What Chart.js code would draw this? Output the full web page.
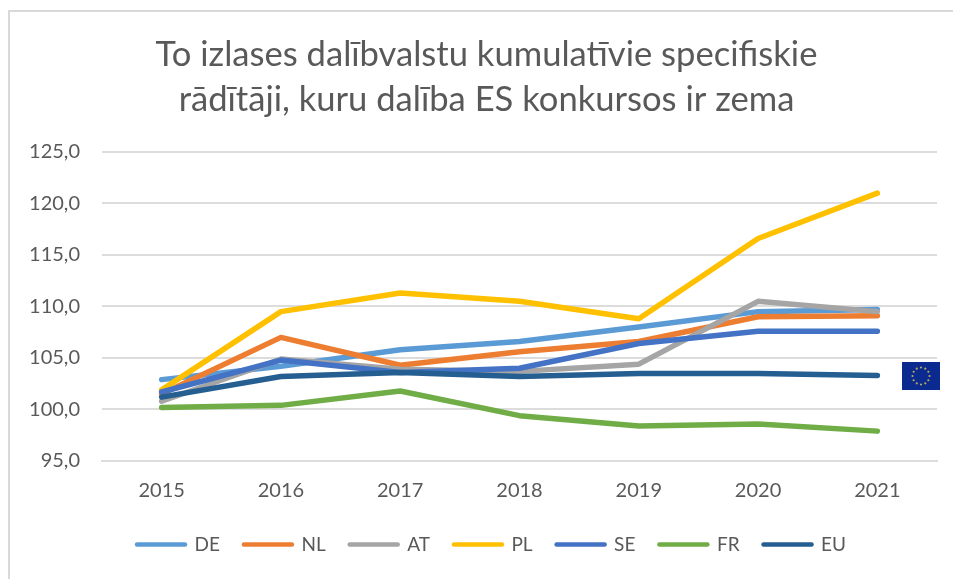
<!DOCTYPE html>
<html><head><meta charset="utf-8">
<style>
html,body{margin:0;padding:0;background:#fff;overflow:hidden}
#wrap{position:absolute;left:0;top:0;width:953px;height:579px}
#frame{position:absolute;left:8px;top:10px;width:960px;height:600px;border:2px solid #d9d9d9;box-sizing:border-box}
canvas{position:absolute;left:0;top:0}
#flag{position:absolute;left:902px;top:362px;width:38px;height:28px}
</style>
<script src="https://cdn.jsdelivr.net/npm/chart.js@4"></script>
</head><body>
<div id="wrap"><div id="frame"></div><canvas id="c" width="953" height="579"></canvas>
<svg id="flag" viewBox="0 0 38 28"><rect width="38" height="28" fill="#0b2a8f"/><g id="stars" fill="#b9a95a"></g></svg></div>
<script>
const titleLines=["To izlases dalībvalstu kumulatīvie specifiskie","rādītāji, kuru dalība ES konkursos ir zema"];
const years=["2015","2016","2017","2018","2019","2020","2021"];
const seriesNames=["DE","NL","AT","PL","SE","FR","EU"];
const colors=["#5b9bd5","#ed7d31","#a5a5a5","#ffc000","#4472c4","#70ad47","#255e91"];
const DE=[102.9,104.2,105.8,106.6,108.0,109.5,109.7];
const NL=[101.5,107.0,104.3,105.6,106.6,109.0,109.1];
const AT=[100.8,104.9,103.9,103.7,104.4,110.5,109.5];
const PL=[101.9,109.5,111.3,110.5,108.8,116.6,121.0];
const SE=[101.7,104.8,103.6,104.0,106.4,107.6,107.6];
const FR=[100.2,100.4,101.8,99.4,98.4,98.6,97.9];
const EU=[101.2,103.2,103.6,103.2,103.5,103.5,103.3];
const values=[DE,NL,AT,PL,SE,FR,EU];
const FONT='Lato, "Open Sans", sans-serif';
const stars=document.getElementById('stars');
for(let i=0;i<12;i++){const a=i*Math.PI/6;const s=document.createElementNS('http://www.w3.org/2000/svg','circle');
s.setAttribute('cx',19+8.5*Math.sin(a));s.setAttribute('cy',14-8.5*Math.cos(a));s.setAttribute('r',1.1);stars.appendChild(s);}
const widenLabels={id:'widenLabels',afterLayout(chart){chart.scales.y.left=0;chart.legend.left+=10;}};
new Chart(document.getElementById('c'),{
 type:'line',
 plugins:[widenLabels],
 data:{labels:years,datasets:seriesNames.map((n,i)=>({label:n,data:values[i],borderColor:colors[i],backgroundColor:colors[i],borderWidth:5.5,pointRadius:0,tension:0,borderCapStyle:'round',borderJoinStyle:'round',order:i===6?-1:(7-i)}))},
 options:{responsive:false,animation:false,
  layout:{padding:{left:36,right:16,top:32,bottom:15}},
  plugins:{
   title:{display:true,text:titleLines,color:'#595959',font:{family:FONT,size:34.6,weight:'normal',lineHeight:1.3},padding:{top:0,bottom:30}},
   legend:{position:'bottom',labels:{usePointStyle:true,pointStyle:'line',pointStyleWidth:48,color:'#595959',font:{family:FONT,size:19},padding:24,
     generateLabels(chart){return chart.data.datasets.map((d,i)=>({text:d.label,strokeStyle:colors[i],fillStyle:colors[i],lineWidth:4.5,lineCap:'round',pointStyle:'line',fontColor:'#595959',datasetIndex:i,hidden:false}));}}},
   tooltip:{enabled:false}
  },
  scales:{
   x:{offset:true,afterFit(s){s.height-=2;},grid:{display:false},border:{color:'#dcdcdc',width:2},ticks:{color:'#595959',font:{family:FONT,size:20},padding:10,maxRotation:0}},
   y:{min:95,max:125,afterFit(s){s.width=66;},border:{display:false},grid:{color:'#dcdcdc',lineWidth:2,drawTicks:false},
      ticks:{stepSize:5,color:'#595959',font:{family:FONT,size:20},padding:22,callback:v=>v.toFixed(1).replace('.',',')}}
  }
 }
});
</script></body></html>
